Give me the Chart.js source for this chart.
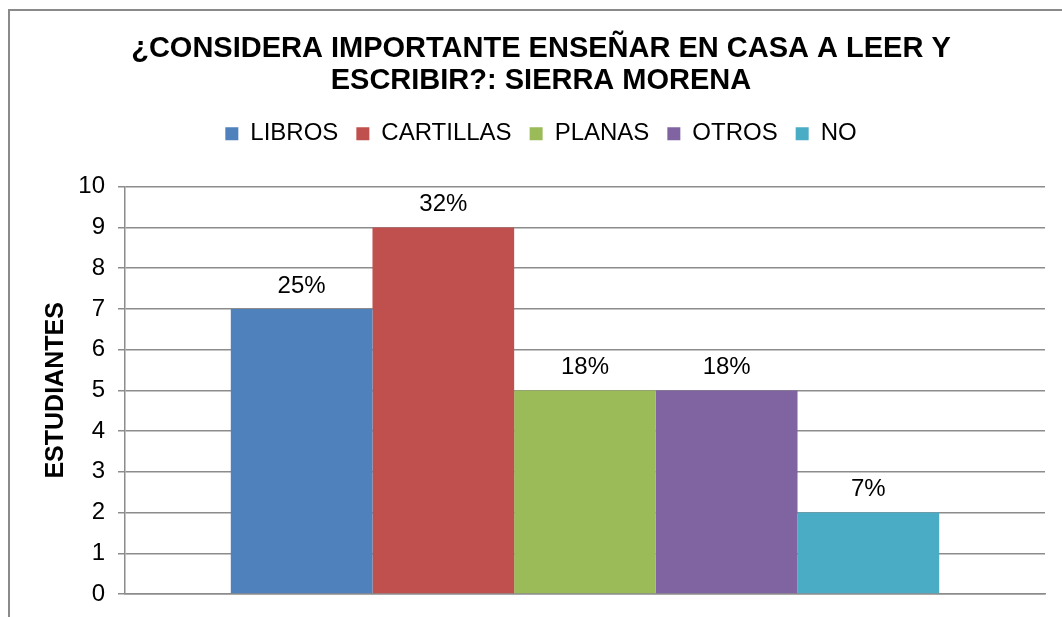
<!DOCTYPE html>
<html>
<head>
<meta charset="utf-8">
<script src="https://cdn.jsdelivr.net/npm/chart.js@4/dist/chart.umd.min.js"></script>
<style>
  html, body { margin: 0; padding: 0; background: #fff; }
  #wrap { width: 1062px; height: 617px; position: relative; }
</style>
</head>
<body>
<div id="wrap"><canvas id="chart" width="1062" height="617"></canvas></div>
<script>
// valores
const series = ['LIBROS', 'CARTILLAS', 'PLANAS', 'OTROS', 'NO'];
const estudiantes = [7, 9, 5, 5, 2];
const porcentajes = ['25%', '32%', '18%', '18%', '7%'];
const colores = ['#4F81BD', '#C0504D', '#9BBB59', '#8064A2', '#4BACC6'];
const yTicks = [0, 1, 2, 3, 4, 5, 6, 7, 8, 9, 10];

const FONT = '"Liberation Sans", Arial, sans-serif';
const GRIS = '#8c8c8c';

// borde exterior del gráfico (recortado a la derecha y abajo)
const bordePlugin = {
    id: 'borde',
    beforeDraw(chart) {
        const ctx = chart.ctx;
        ctx.save();
        ctx.strokeStyle = '#8a8a8a';
        ctx.lineWidth = 2;
        ctx.beginPath();
        ctx.moveTo(9, chart.height);
        ctx.lineTo(9, 10);
        ctx.lineTo(chart.width, 10);
        ctx.stroke();
        ctx.restore();
    }
};

// etiquetas de porcentaje encima de cada barra
const etiquetasPlugin = {
    id: 'etiquetas',
    afterDatasetsDraw(chart) {
        const ctx = chart.ctx;
        ctx.save();
        ctx.font = '24px ' + FONT;
        ctx.fillStyle = '#000';
        ctx.textAlign = 'center';
        ctx.textBaseline = 'middle';
        chart.data.datasets.forEach((ds, i) => {
            const bar = chart.getDatasetMeta(i).data[0];
            if (bar) ctx.fillText(porcentajes[i], bar.x, bar.y - 23);
        });
        ctx.restore();
    }
};

// espacio extra debajo de la leyenda
const espacioPlugin = {
    id: 'espacio',
    afterInit(chart) {
        const lg = chart.legend;
        if (!lg) return;
        const fit = lg.fit;
        lg.fit = function () {
            fit.call(this);
            this.height += 31;
        };
    }
};

const datasets = series.map((s, i) => ({
    label: s,
    data: [estudiantes[i]],
    backgroundColor: colores[i],
    borderWidth: 0
}));

new Chart(document.getElementById('chart'), {
    type: 'bar',
    data: { labels: [''], datasets: datasets },
    plugins: [bordePlugin, etiquetasPlugin, espacioPlugin],
    options: {
        responsive: false,
        animation: false,
        categoryPercentage: 0.77,
        barPercentage: 1,
        layout: { padding: { left: 37, right: 17, top: 0, bottom: 23 } },
        plugins: {
            title: {
                display: true,
                text: ['¿CONSIDERA IMPORTANTE ENSEÑAR EN CASA A LEER Y', 'ESCRIBIR?: SIERRA MORENA'],
                color: '#000',
                font: { family: FONT, size: 29, weight: 'bold', lineHeight: 1.1 },
                padding: { top: 33, bottom: 7 }
            },
            legend: {
                display: true,
                position: 'top',
                labels: {
                    color: '#000',
                    font: { family: FONT, size: 24 },
                    boxWidth: 13,
                    boxHeight: 13,
                    padding: 18
                }
            },
            tooltip: { enabled: false }
        },
        scales: {
            x: {
                ticks: { display: false },
                grid: { display: false, drawTicks: false },
                border: { color: GRIS, width: 1.5 },
                afterFit(scale) { scale.height = 0; }
            },
            y: {
                min: 0,
                max: 10,
                afterFit(scale) {
                    scale.width = 88;
                    scale.paddingBottom = 0;
                    scale.paddingTop = 0;
                },
                afterBuildTicks(scale) { scale.ticks = yTicks.map(v => ({ value: v })); },
                ticks: {
                    color: '#000',
                    font: { family: FONT, size: 24 },
                    padding: 13
                },
                grid: { color: GRIS, lineWidth: 1.5, tickLength: 7 },
                border: { color: GRIS, width: 1.5 },
                title: {
                    display: true,
                    text: 'ESTUDIANTES',
                    color: '#000',
                    font: { family: FONT, size: 25, weight: 'bold' },
                    padding: { top: 4, bottom: 4 }
                }
            }
        }
    }
});
</script>
</body>
</html>
